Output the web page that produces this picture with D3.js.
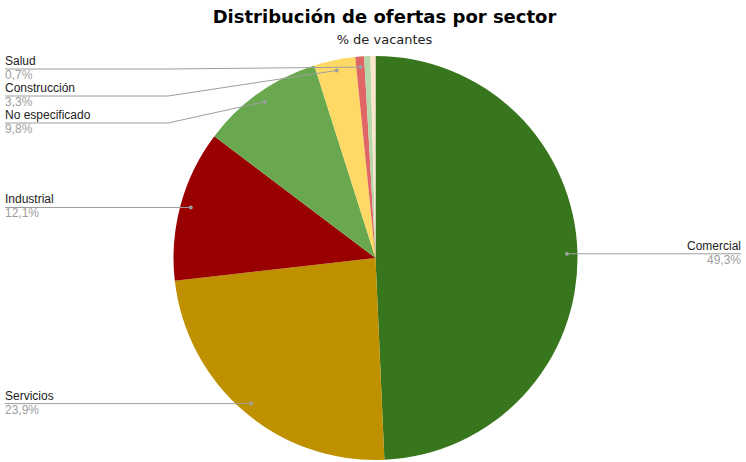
<!DOCTYPE html>
<html>
<head>
<meta charset="utf-8">
<script src="https://cdn.jsdelivr.net/npm/d3@7"></script>
<style>
  body { margin: 0; background: #fff; }
  svg { display: block; }
</style>
</head>
<body>
<div id="chart"></div>
<script>
// datos
const sectors = ['Comercial', 'Servicios', 'Industrial', 'No especificado', 'Construcción', 'Salud', 'Educación', 'Otros'];
const shares = [49.3, 23.9, 12.1, 9.8, 3.3, 0.7, 0.5, 0.4];
const shareLabels = ['49,3%', '23,9%', '12,1%', '9,8%', '3,3%', '0,7%', '0,5%', '0,4%'];
const sliceColors = ['#38761d', '#bf9000', '#990000', '#6aa84f', '#ffd966', '#e06666', '#b6d7a8', '#fce5cd'];

const width = 746, height = 462;
const cx = 375.5, cy = 258, radius = 202;
const labelFont = '"Liberation Sans", Arial, sans-serif';

const svg = d3.select('#chart').append('svg')
  .attr('width', width)
  .attr('height', height);

// titulo
svg.append('text')
  .attr('x', 384.5).attr('y', 23)
  .attr('text-anchor', 'middle')
  .style('font-family', '"DejaVu Sans", Verdana, sans-serif')
  .style('font-weight', 'bold')
  .style('font-size', '18px')
  .attr('fill', '#000')
  .text('Distribución de ofertas por sector');

svg.append('text')
  .attr('x', 384.5).attr('y', 43.5)
  .attr('text-anchor', 'middle')
  .style('font-family', '"DejaVu Sans", Verdana, sans-serif')
  .style('font-size', '13px')
  .attr('fill', '#222')
  .text('% de vacantes');

const data = sectors.map((s, i) => ({ name: s, value: shares[i], label: shareLabels[i], color: sliceColors[i] }));

const pie = d3.pie().sort(null).value(d => d.value);
const arcs = pie(data);
const arc = d3.arc().innerRadius(0).outerRadius(radius);

const g = svg.append('g').attr('transform', `translate(${cx},${cy})`);

g.selectAll('path.slice')
  .data(arcs)
  .enter()
  .append('path')
  .attr('class', 'slice')
  .attr('d', arc)
  .attr('fill', d => d.data.color);

// etiquetas
const anchorR = radius * 0.948;
const labelled = arcs.filter(d => d.data.value >= 0.6).map(d => {
  const a = (d.startAngle + d.endAngle) / 2;
  return {
    d: d,
    ax: cx + anchorR * Math.sin(a),
    ay: cy - anchorR * Math.cos(a),
    side: Math.sin(a) >= 0 ? 'right' : 'left'
  };
});

const gap = 27, minY = 69;
['left', 'right'].forEach(side => {
  const items = labelled.filter(l => l.side === side).sort((a, b) => a.ay - b.ay);
  let prev = -Infinity;
  items.forEach(l => {
    l.ly = Math.max(l.ay, minY, prev + gap);
    prev = l.ly;
  });
});

const leftX = 5, rightX = 741, kneeLeft = 168, kneeRight = 583;

const lg = svg.append('g');

labelled.forEach(l => {
  const isLeft = l.side === 'left';
  const tx = isLeft ? leftX : rightX;
  const knee = isLeft ? kneeLeft : kneeRight;
  lg.append('polyline')
    .attr('points', [[tx, l.ly], [knee, l.ly], [l.ax, l.ay]].map(p => p.join(',')).join(' '))
    .attr('fill', 'none')
    .attr('stroke', '#9e9e9e')
    .attr('stroke-width', 1);
  lg.append('circle')
    .attr('cx', l.ax).attr('cy', l.ay).attr('r', 2)
    .attr('fill', '#9e9e9e');
  lg.append('text')
    .attr('x', tx).attr('y', l.ly - 4)
    .attr('text-anchor', isLeft ? 'start' : 'end')
    .style('font-family', labelFont)
    .style('font-size', '12px')
    .attr('fill', '#222')
    .text(l.d.data.name);
  lg.append('text')
    .attr('x', tx).attr('y', l.ly + 10)
    .attr('text-anchor', isLeft ? 'start' : 'end')
    .style('font-family', labelFont)
    .style('font-size', '12px')
    .attr('fill', '#9e9e9e')
    .text(l.d.data.label);
});
</script>
</body>
</html>
